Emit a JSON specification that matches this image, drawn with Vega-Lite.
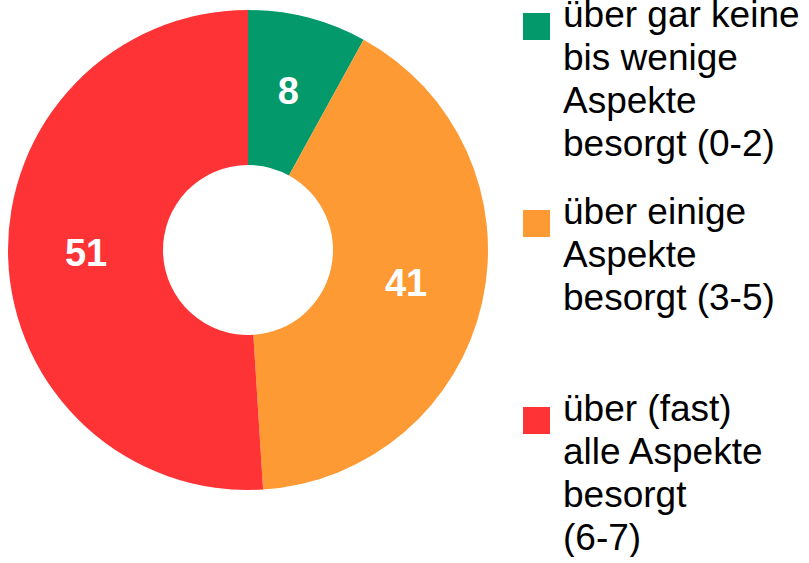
{
  "$schema": "https://vega.github.io/schema/vega-lite/v6.json",
  "width": 496,
  "height": 500,
  "padding": 0,
  "background": "white",
  "config": {
    "view": {"stroke": null},
    "font": "Liberation Sans",
    "style": {"guide-label": {"lineHeight": 43}}
  },
  "data": {
    "values": [
      {"idx": 1, "category": "über gar keine|bis wenige|Aspekte|besorgt (0-2)", "value": 8},
      {"idx": 2, "category": "über einige|Aspekte|besorgt (3-5)| ", "value": 41},
      {"idx": 3, "category": "über (fast)|alle Aspekte|besorgt|(6-7)", "value": 51}
    ]
  },
  "encoding": {
    "theta": {"field": "value", "type": "quantitative", "stack": true},
    "order": {"field": "idx", "type": "quantitative"},
    "color": {
      "field": "category",
      "type": "nominal",
      "sort": null,
      "scale": {
        "domain": [
          "über gar keine|bis wenige|Aspekte|besorgt (0-2)",
          "über einige|Aspekte|besorgt (3-5)| ",
          "über (fast)|alle Aspekte|besorgt|(6-7)"
        ],
        "range": ["#03996A", "#FE9A34", "#FE3336"]
      },
      "legend": {
        "title": null,
        "orient": "none",
        "legendX": 518,
        "legendY": 8,
        "padding": 0,
        "symbolType": "square",
        "symbolSize": 729,
        "symbolStrokeWidth": 0,
        "symbolOpacity": 1,
        "labelFont": "Liberation Sans",
        "labelFontSize": 37,
        "labelColor": "black",
        "labelLimit": 400,
        "labelOffset": 8,
        "labelBaseline": "alphabetic",
        "rowPadding": 30,
        "labelExpr": "split(datum.label, '|')"
      }
    }
  },
  "layer": [
    {
      "mark": {"type": "arc", "outerRadius": 240, "innerRadius": 85, "stroke": null}
    },
    {
      "mark": {
        "type": "text",
        "radius": 162,
        "font": "Liberation Sans",
        "fontSize": 38,
        "fontWeight": "bold",
        "fill": "white",
        "align": "center",
        "baseline": "middle"
      },
      "encoding": {
        "text": {"field": "value", "type": "quantitative"},
        "color": {"value": "white"}
      }
    }
  ]
}
